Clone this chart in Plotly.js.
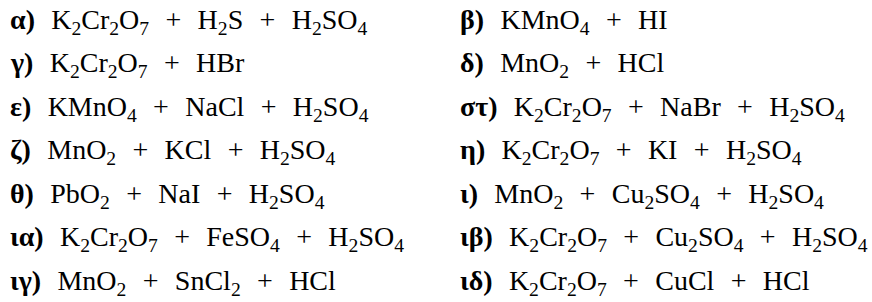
<!DOCTYPE html>
<html>
<head>
<meta charset="utf-8">
<script src="https://cdn.plot.ly/plotly-3.0.1.min.js"></script>
<style>html,body{margin:0;padding:0;background:#ffffff;}</style>
</head>
<body>
<div id="chart" style="width:872px;height:302px;"></div>
<script>
// ---- data ----
const labelsLeft  = ['α)', 'γ)', 'ε)', 'ζ)', 'θ)', 'ια)', 'ιγ)'];
const reactantsLeft = [
  ['K2Cr2O7', 'H2S', 'H2SO4'],
  ['K2Cr2O7', 'HBr'],
  ['KMnO4', 'NaCl', 'H2SO4'],
  ['MnO2', 'KCl', 'H2SO4'],
  ['PbO2', 'NaI', 'H2SO4'],
  ['K2Cr2O7', 'FeSO4', 'H2SO4'],
  ['MnO2', 'SnCl2', 'HCl']
];
const labelsRight = ['β)', 'δ)', 'στ)', 'η)', 'ι)', 'ιβ)', 'ιδ)'];
const reactantsRight = [
  ['KMnO4', 'HI'],
  ['MnO2', 'HCl'],
  ['K2Cr2O7', 'NaBr', 'H2SO4'],
  ['K2Cr2O7', 'KI', 'H2SO4'],
  ['MnO2', 'Cu2SO4', 'H2SO4'],
  ['K2Cr2O7', 'Cu2SO4', 'H2SO4'],
  ['K2Cr2O7', 'CuCl', 'HCl']
];

// ---- helpers ----
const GAP = '\u00a0\u00a0\u200a';
function formula(f) { return f.replace(/(\d+)/g, '<sub>$1</sub>'); }
function line(label, reactants) {
  return '<b>' + label + '</b>' + GAP +
         reactants.map(formula).join(GAP + '+' + GAP);
}

// ---- layout geometry ----
const W = 872, H = 302;
const colPx = [10, 460];           // left edge of each column (px)
const rowTop = 21, rowStep = 43.5; // vertical centre of first row, step (px)
const dx = colPx[1] - colPx[0];
const xRange = [(0 - colPx[0]) / dx, (W - colPx[0]) / dx];
const yRange = [(H - rowTop) / rowStep, (0 - rowTop) / rowStep];

const font = {family: 'Liberation Serif, Times New Roman, serif', size: 28, color: '#000000'};
const annotations = [];
[[labelsLeft, reactantsLeft], [labelsRight, reactantsRight]].forEach(([labs, reacts], c) => {
  labs.forEach((lab, r) => {
    annotations.push({
      x: c, y: r, xref: 'x', yref: 'y',
      text: line(lab, reacts[r]),
      showarrow: false, xanchor: 'left', yanchor: 'middle', align: 'left',
      borderpad: 0, borderwidth: 0, font: font
    });
  });
});

const layout = {
  width: W, height: H,
  margin: {l: 0, r: 0, t: 0, b: 0, pad: 0},
  paper_bgcolor: '#ffffff', plot_bgcolor: '#ffffff',
  xaxis: {range: xRange, visible: false, fixedrange: true},
  yaxis: {range: yRange, visible: false, fixedrange: true},
  showlegend: false,
  annotations: annotations
};
Plotly.newPlot('chart', [{x: [], y: [], type: 'scatter', hoverinfo: 'skip'}], layout, {staticPlot: true, displayModeBar: false});
</script>
</body>
</html>
